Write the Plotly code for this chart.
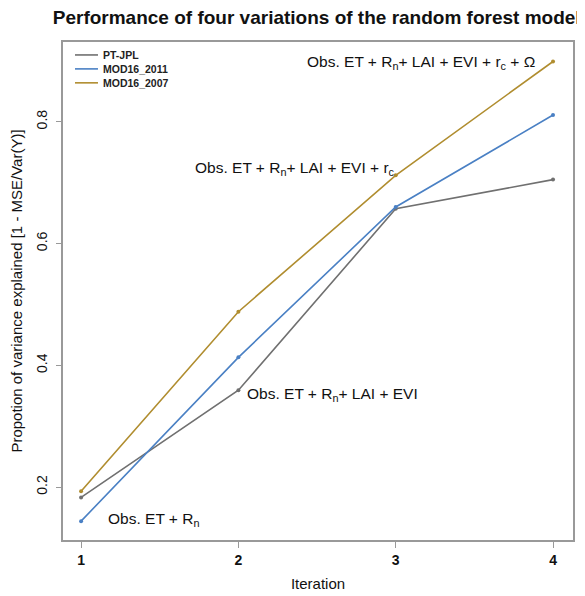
import plotly.graph_objects as go

iterations = [1, 2, 3, 4]
pt_jpl = [0.183, 0.359, 0.657, 0.705]
mod16_2011 = [0.144, 0.413, 0.660, 0.811]
mod16_2007 = [0.193, 0.488, 0.712, 0.899]
series_names = ["PT-JPL", "MOD16_2011", "MOD16_2007"]
colors = ["#707070", "#4a80c4", "#b08d2f"]

labels = [
    "Obs. ET + R<sub>n</sub>",
    "Obs. ET + R<sub>n</sub>+ LAI + EVI",
    "Obs. ET + R<sub>n</sub>+ LAI + EVI + r<sub>c</sub>",
    "Obs. ET + R<sub>n</sub>+ LAI + EVI + r<sub>c</sub> + Ω",
]
label_x = [1.16, 2.043, 1.712, 2.424]
label_y = [0.147, 0.352, 0.724, 0.897]

fig = go.Figure()
for name, vals, c in zip(series_names, [pt_jpl, mod16_2011, mod16_2007], colors):
    fig.add_trace(go.Scatter(
        x=iterations, y=vals, name=name, mode="lines+markers",
        line=dict(color=c, width=1.6), marker=dict(color=c, size=4),
        showlegend=False,
    ))

for t, x, y in zip(labels, label_x, label_y):
    fig.add_annotation(x=x, y=y, text=t, showarrow=False, xanchor="left",
                       yanchor="middle", font=dict(size=15.5, color="#111"))

# legend drawn inside the top-left corner of the frame
leg_y = [0.974, 0.946, 0.918]
for name, c, ly in zip(series_names, colors, leg_y):
    fig.add_shape(type="line", xref="paper", yref="paper",
                  x0=0.0235, x1=0.0686, y0=ly, y1=ly,
                  line=dict(color=c, width=1.6))
    fig.add_annotation(xref="paper", yref="paper", x=0.075, y=ly, text="<b>" + name + "</b>",
                       showarrow=False, xanchor="left", yanchor="middle",
                       font=dict(size=10.5, color="#222"))

# the page body adds an 8px offset, so the figure is 8px smaller and margins shifted
fig.update_layout(
    width=577, height=588,
    margin=dict(l=55, r=12, t=34, b=56),
    paper_bgcolor="white", plot_bgcolor="white",
    font=dict(family="Liberation Sans, Arial, sans-serif", color="#111"),
    title=dict(text="<b>Performance of four variations of the random forest model</b>",
               x=0.535, xanchor="center", xref="container",
               y=0.984, yanchor="middle", yref="container",
               font=dict(size=19, color="#111")),
    xaxis=dict(range=[0.885, 4.127], tickvals=iterations,
               ticktext=["<b>1</b>", "<b>2</b>", "<b>3</b>", "<b>4</b>"],
               ticks="outside", ticklen=6, tickcolor="#999", automargin=False,
               showgrid=False, zeroline=False, showline=True, linecolor="#999",
               linewidth=1.5, mirror=True, tickfont=dict(size=14),
               title=dict(text="Iteration", font=dict(size=15), standoff=12)),
    yaxis=dict(range=[0.113, 0.931], tickvals=[0.2, 0.4, 0.6, 0.8],
               ticktext=["0.2", "0.4", "0.6", "0.8"], tickangle=-90,
               ticks="outside", ticklen=5, tickcolor="#999", automargin=False,
               ticklabelstandoff=4,
               showgrid=False, zeroline=False, showline=True, linecolor="#999",
               linewidth=1.5, mirror=True, tickfont=dict(size=14),
               title=dict(text="Propotion of variance explained [1 - MSE/Var(Y)]",
                          font=dict(size=15), standoff=8)),
)

fig.write_html("out.html")
